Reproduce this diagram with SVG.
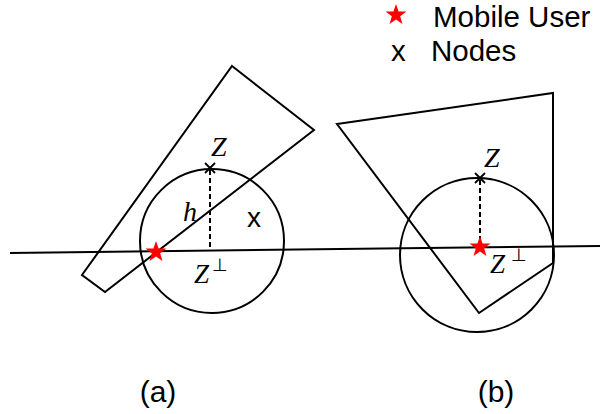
<svg xmlns="http://www.w3.org/2000/svg" width="600" height="414" viewBox="0 0 600 414">
<defs>
<style>
.ln{fill:none;stroke:#000;stroke-width:2}
.dash{fill:none;stroke:#000;stroke-width:2;stroke-dasharray:5 3}
.sans{font-family:"Liberation Sans",Arial,sans-serif;fill:#000}
.math{font-family:"Liberation Serif","DejaVu Serif",serif;font-style:italic;fill:#000}
.up{font-family:"DejaVu Sans","Liberation Serif",serif;fill:#000}
.star{fill:#f00}
.xm{stroke:#000;stroke-width:1.8;fill:none}
</style>
<path id="star" d="M0,-11 L2.59,-3.56 L10.46,-3.4 L4.18,1.36 L6.47,8.9 L0,4.4 L-6.47,8.9 L-4.18,1.36 L-10.46,-3.4 L-2.59,-3.56 Z"/>
<path id="xmark" d="M-5,-5 L5,5 M5,-5 L-5,5"/>
</defs>
<rect width="600" height="414" fill="#fff"/>
<g id="legend">
<use href="#star" class="star" x="396" y="15"/>
<text class="sans" x="433" y="27" font-size="29.5">Mobile User</text>
<text class="sans" x="391" y="61" font-size="29.5">x</text>
<text class="sans" x="431" y="61" font-size="29.5">Nodes</text>
</g>
<g id="connectors">
<line class="ln" x1="10" y1="253" x2="600" y2="246"/>
<line class="dash" x1="210" y1="170" x2="210" y2="251"/>
<line class="dash" x1="480" y1="180" x2="480" y2="240"/>
</g>
<g id="panel-a">
<polygon class="ln" points="232,66 314,130 105,292 82,275"/>
<circle class="ln" cx="212" cy="241" r="72"/>
<use href="#xmark" class="xm" x="210" y="168"/>
<text class="math" x="211" y="156" font-size="28">Z</text>
<text class="math" x="183" y="221" font-size="28">h</text>
<text class="sans" x="247" y="227" font-size="28">x</text>
<text class="math" x="194" y="283" font-size="27">Z</text>
<text class="up" x="212" y="271" font-size="18">⊥</text>
<use href="#star" class="star" x="156" y="252"/>
<text class="sans" x="158" y="402" font-size="30" text-anchor="middle">(a)</text>
</g>
<g id="panel-b">
<polygon class="ln" points="337,124 553,93 553,263 479,313"/>
<circle class="ln" cx="477" cy="255" r="77"/>
<use href="#xmark" class="xm" x="480" y="178"/>
<text class="math" x="484" y="167" font-size="28">Z</text>
<text class="math" x="490" y="273" font-size="27">Z</text>
<text class="up" x="511" y="261" font-size="18">⊥</text>
<use href="#star" class="star" x="480" y="247"/>
<text class="sans" x="496" y="402" font-size="30" text-anchor="middle">(b)</text>
</g>
</svg>
